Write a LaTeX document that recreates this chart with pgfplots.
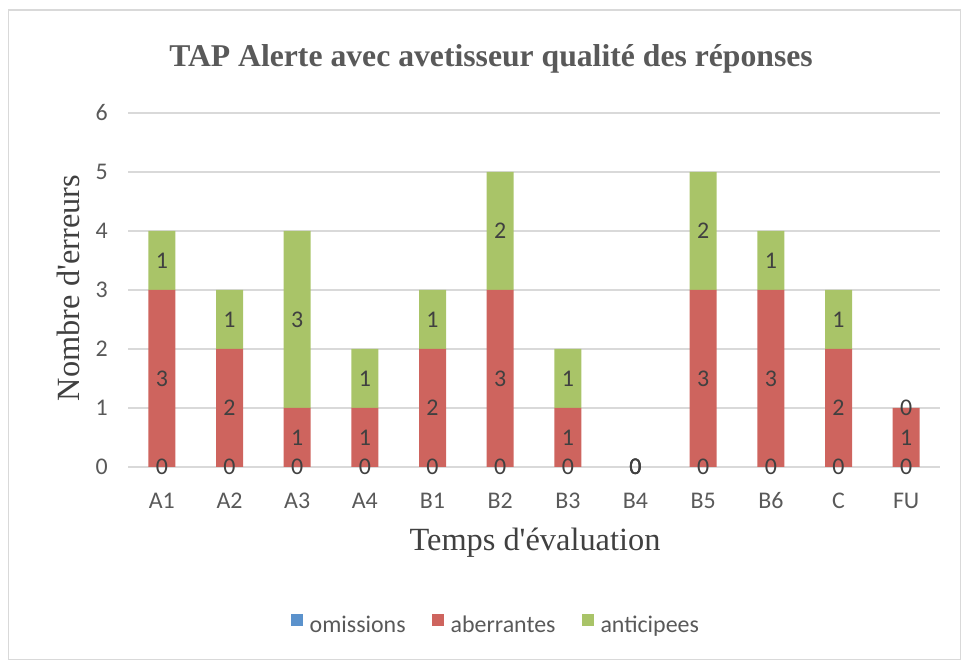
\documentclass[border=0pt]{standalone}
\usepackage{pgfplots}
\pgfplotsset{compat=1.18}
\usepackage{fontspec}
\setmainfont{Carlito}
\newfontfamily\timesfont{Liberation Serif}
\definecolor{cblue}{RGB}{91,146,204}
\definecolor{cred}{RGB}{206,100,94}
\definecolor{cgreen}{RGB}{169,196,104}
\definecolor{txtgray}{RGB}{89,89,89}
\definecolor{lblgray}{RGB}{64,64,64}
\definecolor{gridgray}{RGB}{217,217,217}
\pgfplotsset{
  myframe/.style={
    at={(128bp,193bp)}, anchor=south west,
    scale only axis, width=812bp, height=354bp,
    xmin=-0.5, xmax=11.5, ymin=0, ymax=6,
  }
}
\begin{document}
\begin{tikzpicture}
\path[use as bounding box] (0bp,0bp) rectangle (961bp,660bp);
\draw[color=gridgray, line width=1.5bp] (8.5bp,0.75bp) rectangle (960.25bp,650bp);
\node[font=\timesfont\bfseries\fontsize{31.8}{32}\selectfont, color=txtgray] at (491bp,601bp) {TAP Alerte avec avetisseur qualité des réponses};
\node[font=\timesfont\fontsize{32.5}{33}\selectfont, color=lblgray, rotate=90] at (68bp,372bp) {Nombre d'erreurs};
\node[font=\timesfont\fontsize{32.5}{33}\selectfont, color=lblgray] at (535bp,117bp) {Temps d'évaluation};
\begin{axis}[
  myframe,
  ybar stacked, bar width=27bp,
  xtick={0,...,11},
  xticklabels={A1,A2,A3,A4,B1,B2,B3,B4,B5,B6,C,FU},
  ytick={0,...,6},
  /pgf/number format/assume math mode=true,
  axis line style={draw=none},
  tick style={draw=none},
  ymajorgrids,
  grid style={color=gridgray, line width=1.3bp},
  tick label style={font=\fontsize{24}{24}\selectfont, color=txtgray},
  xticklabel style={anchor=base, yshift=-41bp},
  yticklabel style={anchor=east, inner sep=0pt, xshift=-20bp},
  legend style={at={(axis description cs:0.453,-0.446)}, anchor=center, draw=none, fill=none,
    legend columns=3, font=\fontsize{24}{24}\selectfont, text=txtgray,
    /tikz/every odd column/.append style={column sep=5bp},
    /tikz/every even column/.append style={column sep=24bp}},
  legend image code/.code={\fill[#1] (0bp,-1bp) rectangle (12bp,11bp);},
]
\addplot[fill=cblue, draw=none] coordinates {(0,0) (1,0) (2,0) (3,0) (4,0) (5,0) (6,0) (7,0) (8,0) (9,0) (10,0) (11,0)};
\addplot[fill=cred, draw=none] coordinates {(0,3) (1,2) (2,1) (3,1) (4,2) (5,3) (6,1) (7,0) (8,3) (9,3) (10,2) (11,1)};
\addplot[fill=cgreen, draw=none] coordinates {(0,1) (1,1) (2,3) (3,1) (4,1) (5,2) (6,1) (7,0) (8,2) (9,1) (10,1) (11,0)};
\legend{omissions,aberrantes,anticipees}
\end{axis}
\begin{axis}[
  myframe, hide axis, clip=false,
]
\addplot[draw=none, mark=none, nodes near coords, point meta=explicit symbolic,
  every node near coord/.style={anchor=center, inner sep=0pt, font=\fontsize{24}{24}\selectfont, color=lblgray}]
  coordinates {
  (0,0)[0] (0,1.5)[3] (0,3.5)[1]
  (1,0)[0] (1,1)[2] (1,2.5)[1]
  (2,0)[0] (2,0.5)[1] (2,2.5)[3]
  (3,0)[0] (3,0.5)[1] (3,1.5)[1]
  (4,0)[0] (4,1)[2] (4,2.5)[1]
  (5,0)[0] (5,1.5)[3] (5,4)[2]
  (6,0)[0] (6,0.5)[1] (6,1.5)[1]
  (7,0)[0] (7,0)[0] (7,0)[0]
  (8,0)[0] (8,1.5)[3] (8,4)[2]
  (9,0)[0] (9,1.5)[3] (9,3.5)[1]
  (10,0)[0] (10,1)[2] (10,2.5)[1]
  (11,0)[0] (11,0.5)[1] (11,1)[0]
  };
\end{axis}
\end{tikzpicture}
\end{document}
